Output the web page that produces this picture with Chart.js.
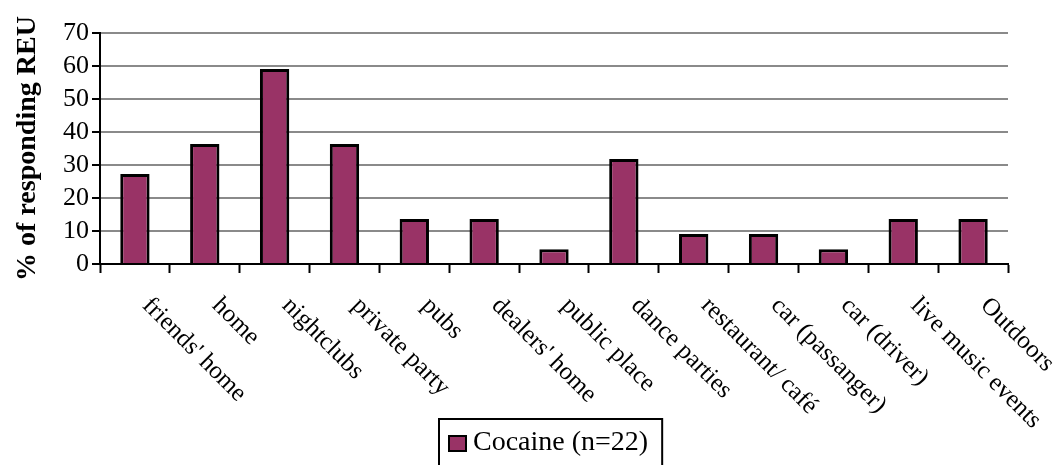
<!DOCTYPE html>
<html>
<head>
<meta charset="utf-8">
<script src="https://cdn.jsdelivr.net/npm/chart.js@4/dist/chart.umd.min.js"></script>
<style>
  html, body { margin: 0; padding: 0; background: #fff; }
  #wrap { width: 1060px; height: 465px; position: relative; }
</style>
</head>
<body>
<div id="wrap"><canvas id="chart"></canvas></div>
<script>
// places where cocaine was used, % of responding REU (n=22)
const categories = [
  "friends' home", 'home', 'nightclubs', 'private party', 'pubs', "dealers' home",
  'public place', 'dance parties', 'restaurant/ café', 'car (passanger)', 'car (driver)',
  'live music events', 'Outdoors'
];
const cocaine = [27.3, 36.4, 59.1, 36.4, 13.6, 13.6, 4.5, 31.8, 9.1, 9.1, 4.5, 13.6, 13.6];
const seriesLabel = 'Cocaine (n=22)';
const yTicks = [0, 10, 20, 30, 40, 50, 60, 70];

const FONT = "'Liberation Serif', 'DejaVu Serif', serif";
const BAR = '#993366';

// x labels are rotated clockwise, which chart.js can't do, so draw them here
const slantLabels = {
  id: 'slantLabels',
  afterDraw(chart) {
    const { ctx } = chart;
    const x = chart.scales.x;
    ctx.save();
    ctx.font = '25px ' + FONT;
    ctx.fillStyle = '#000';
    ctx.textAlign = 'left';
    ctx.textBaseline = 'top';
    categories.forEach((c, i) => {
      const px = x.getPixelForValue(i);
      ctx.save();
      ctx.translate(px + 20, chart.chartArea.bottom + 29);
      ctx.rotate(Math.PI / 4);
      ctx.fillText(c, 0, 0);
      ctx.restore();
    });
    ctx.restore();
  },
};

// boxed legend under the axis labels
const boxLegend = {
  id: 'boxLegend',
  afterDraw(chart) {
    const { ctx } = chart;
    const ds = chart.data.datasets[0];
    ctx.save();
    ctx.font = '28px ' + FONT;
    const tw = ctx.measureText(ds.label).width;
    const left = 439, top = 419, h = 50;
    const w = 34 + tw + 14;
    ctx.strokeStyle = '#000';
    ctx.lineWidth = 2;
    ctx.strokeRect(left, top, w, h);
    ctx.fillStyle = ds.backgroundColor;
    ctx.fillRect(left + 10, top + 17, 17, 15);
    ctx.strokeRect(left + 10, top + 17, 17, 15);
    ctx.fillStyle = '#000';
    ctx.textBaseline = 'middle';
    ctx.fillText(ds.label, left + 34, top + 24);
    ctx.restore();
  },
};

new Chart(document.getElementById('chart'), {
  type: 'bar',
  data: {
    labels: categories,
    datasets: [{
      label: seriesLabel,
      data: cocaine,
      backgroundColor: BAR,
      borderColor: '#000',
      borderWidth: 3,
      barPercentage: 0.42,
      categoryPercentage: 1,
    }],
  },
  options: {
    responsive: true,
    maintainAspectRatio: false,
    animation: false,
    layout: { padding: { top: 33, right: 52, left: 0, bottom: 0 } },
    plugins: {
      legend: { display: false },
      tooltip: { enabled: false },
    },
    scales: {
      x: {
        ticks: { display: false },
        grid: {
          offset: true,
          drawOnChartArea: false,
          tickLength: 9,
          tickColor: '#000',
          tickWidth: 2,
        },
        border: { color: '#000', width: 2 },
        afterFit(scale) { scale.height = 201; },
      },
      y: {
        min: 0,
        max: 70,
        afterBuildTicks(scale) { scale.ticks = yTicks.map((v) => ({ value: v })); },
        ticks: {
          color: '#000',
          font: { family: FONT, size: 26 },
          padding: 3,
          autoSkip: false,
        },
        grid: {
          color: '#8a8a8a',
          lineWidth: 2,
          tickLength: 8,
          tickColor: '#000',
          tickWidth: 2,
        },
        border: { color: '#000', width: 2 },
        title: {
          display: true,
          text: '% of responding REU',
          color: '#000',
          font: { family: FONT, size: 28, weight: 'bold' },
          padding: { top: 11, bottom: 0 },
        },
        afterFit(scale) { scale.width = 100; },
      },
    },
  },
  plugins: [slantLabels, boxLegend],
});
</script>
</body>
</html>
